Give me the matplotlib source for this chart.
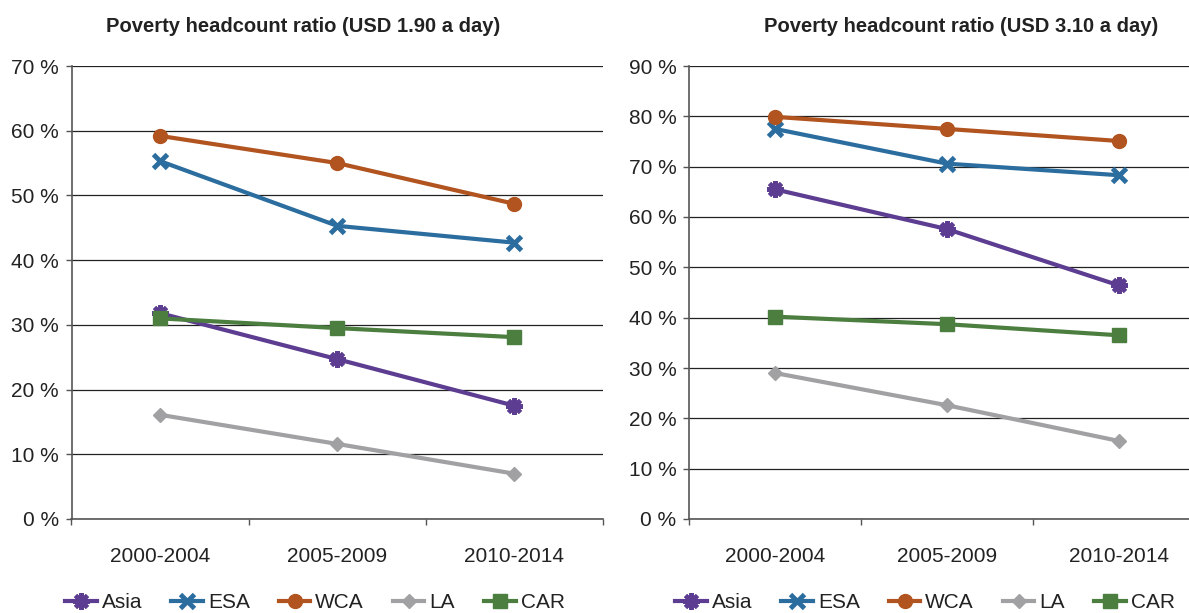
"""Poverty headcount ratio, two panels (USD 1.90 and USD 3.10 a day)."""
import matplotlib
matplotlib.use("Agg")
import matplotlib.pyplot as plt
from matplotlib.lines import Line2D
from matplotlib.ticker import FixedLocator

plt.rcParams["font.family"] = ["Liberation Sans", "DejaVu Sans"]
TEXT = "#222222"

periods = ["2000-2004", "2005-2009", "2010-2014"]
series = ["Asia", "ESA", "WCA", "LA", "CAR"]

# USD 1.90 a day, percent
asia_190 = [31.8, 24.7, 17.5]
esa_190 = [55.3, 45.3, 42.7]
wca_190 = [59.2, 55.0, 48.7]
la_190 = [16.1, 11.6, 7.0]
car_190 = [31.0, 29.5, 28.1]

# USD 3.10 a day, percent
asia_310 = [65.5, 57.6, 46.4]
esa_310 = [77.5, 70.6, 68.3]
wca_310 = [79.9, 77.5, 75.1]
la_310 = [29.0, 22.6, 15.5]
car_310 = [40.2, 38.7, 36.5]

colors = {"Asia": "#5c3d91", "ESA": "#2b6d9f", "WCA": "#b1541f",
          "LA": "#a1a1a3", "CAR": "#4b7e3f"}
markers = {
    "Asia": dict(marker=(8, 2, 0), markersize=12, markeredgewidth=3),
    "ESA": dict(marker="x", markersize=10, markeredgewidth=3.5),
    "WCA": dict(marker="o", markersize=10),
    "LA": dict(marker="D", markersize=7),
    "CAR": dict(marker="s", markersize=10),
}


def style(name):
    c = colors[name]
    return dict(color=c, linewidth=3, markerfacecolor=c, markeredgecolor=c,
                **markers[name])


def panel(ax, data, ymax, title, title_x):
    x = range(len(periods))
    for name in series:
        ax.plot(x, data[name], zorder=3, clip_on=False, **style(name))
    ax.set_xlim(-0.5, len(periods) - 0.5)
    ax.set_ylim(0, ymax)
    ax.set_yticks(range(0, ymax + 1, 10))
    ax.yaxis.set_major_formatter(lambda v, p: f"{v:.0f} %")
    ax.grid(axis="y", color="#222222", linewidth=0.9)
    ax.set_axisbelow(True)
    ax.xaxis.set_major_locator(FixedLocator([-0.5, 0.5, 1.5, 2.5]))
    ax.xaxis.set_major_formatter(lambda v, p: "")
    ax.xaxis.set_minor_locator(FixedLocator(list(x)))
    ax.set_xticklabels(periods, minor=True)
    ax.tick_params(axis="x", which="minor", length=0, pad=20, labelsize=15,
                   labelcolor=TEXT)
    ax.tick_params(axis="x", which="major", length=4, color="#555555", width=1)
    ax.tick_params(axis="y", length=4, pad=5, labelsize=15, labelcolor=TEXT,
                   color="#555555", width=1)
    for s in ("top", "right"):
        ax.spines[s].set_visible(False)
    for s in ("left", "bottom"):
        ax.spines[s].set_color("#555555")
        ax.spines[s].set_linewidth(1.2)
    ax.figure.text(title_x, 1 - 26 / 613, title, ha="center", va="center",
                   fontsize=14.5, fontweight="bold", color=TEXT)


fig = plt.figure(figsize=(11.89, 6.13), dpi=100)
W, H = 1189, 613
ax1 = fig.add_axes([71.5 / W, (H - 519) / H, (603 - 71.5) / W, (519 - 66) / H])
ax2 = fig.add_axes([689 / W, (H - 519) / H, 516 / W, (519 - 66) / H])

panel(ax1, {"Asia": asia_190, "ESA": esa_190, "WCA": wca_190, "LA": la_190,
            "CAR": car_190}, 70, "Poverty headcount ratio (USD 1.90 a day)", 303 / W)
panel(ax2, {"Asia": asia_310, "ESA": esa_310, "WCA": wca_310, "LA": la_310,
            "CAR": car_310}, 90, "Poverty headcount ratio (USD 3.10 a day)", 961 / W)

handles = [Line2D([], [], **style(n)) for n in series]
for cx in (315 / W, 925 / W):
    fig.legend(handles, series, loc="center", bbox_to_anchor=(cx, 1 - 603 / H),
               ncol=5, frameon=False, fontsize=15, handlelength=1.5,
               handletextpad=0.25, columnspacing=1.4, labelcolor=TEXT,
               borderpad=0, borderaxespad=0)

fig.savefig("out.png", dpi=100)
